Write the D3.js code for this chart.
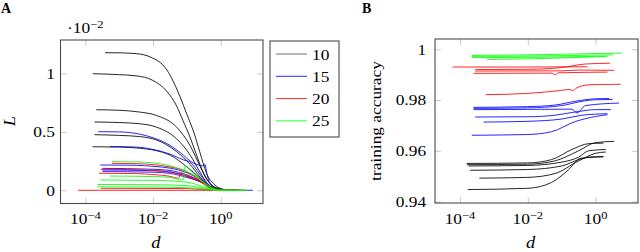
<!DOCTYPE html>
<html>
<head>
<meta charset="utf-8">
<script src="https://cdn.jsdelivr.net/npm/d3@7"></script>
<style>
  body { margin: 0; background: #fff; }
  svg { display: block; }
  svg text { font-family: "Liberation Serif", "DejaVu Serif", serif; }
</style>
</head>
<body>
<svg id="chart" width="640" height="252"></svg>
<script>
// each curve: [log10(d), value] pairs
const legendKeys = ["10", "15", "20", "25"];

const lossBlack = [
  [[-3.42, 0.01178], [-3, 0.01177], [-2.5, 0.0117], [-2.07, 0.0114], [-1.59, 0.0103], [-1.2, 0.008], [-1.0, 0.0065], [-0.8, 0.005], [-0.62, 0.0033], [-0.42, 0.00146], [-0.17, 0.00045], [0, 0.00015], [0.3, 0], [0.55, 0]],
  [[-3.78, 0.00998], [-3, 0.0099], [-2.5, 0.0098], [-2, 0.0094], [-1.6, 0.0085], [-1.3, 0.0072], [-1.12, 0.006], [-0.9, 0.0045], [-0.7, 0.0029], [-0.5, 0.0014], [-0.25, 0.0004], [0, 0.0001], [0.23, 0]],
  [[-3.68, 0.0069], [-3, 0.00685], [-2.4, 0.0067], [-1.89, 0.0064], [-1.3, 0.0054], [-0.9, 0.0038], [-0.6, 0.002], [-0.4, 0.0009], [-0.2, 0.0003], [0, 0.0001], [0.3, 0]],
  [[-3.73, 0.00585], [-3, 0.0058], [-2.4, 0.0057], [-1.89, 0.0054], [-1.3, 0.0044], [-0.9, 0.003], [-0.6, 0.0015], [-0.4, 0.0006], [-0.2, 0.0002], [0, 0.00005], [0.23, 0]],
  [[-3.73, 0.00476], [-3, 0.0047], [-2.4, 0.0046], [-1.89, 0.0043], [-1.3, 0.0033], [-0.9, 0.0022], [-0.6, 0.0011], [-0.35, 0.0004], [-0.1, 0.0001], [0, 0], [0.3, 0]],
  [[-3.79, 0.00373], [-3, 0.0037], [-2.38, 0.0036], [-1.49, 0.003], [-1.0, 0.002], [-0.6, 0.001], [-0.35, 0.0003], [-0.1, 0.0001], [0, 0], [0.23, 0]]
];
const lossBlue = [
  [[-3.62, 0.00502], [-3, 0.005], [-2.38, 0.0048], [-2, 0.0045], [-1.59, 0.004], [-1.1, 0.003], [-0.9, 0.0025], [-0.7, 0.0022], [-0.5, 0.00208], [-0.47, 0.00222], [-0.4, 0.0013], [-0.3, 0.0005], [-0.12, 0.0001], [0, 0], [0.5, 0]],
  [[-3.27, 0.00375], [-2.5, 0.0037], [-2, 0.0035], [-1.5, 0.0031], [-1.1, 0.0026], [-0.9, 0.0024], [-0.6, 0.0013], [-0.35, 0.0004], [-0.1, 0.0001], [0, 0], [0.65, 0]],
  [[-3.56, 0.00217], [-2.5, 0.00214], [-2, 0.00205], [-1.5, 0.0019], [-1, 0.0015], [-0.6, 0.0009], [-0.3, 0.0003], [0, 0], [0.95, 0]],
  [[-3.5, 0.00188], [-2, 0.0018], [-1.5, 0.0017], [-1, 0.0013], [-0.6, 0.0008], [-0.3, 0.0002], [0, 0], [0.45, 0]],
  [[-3.5, 0.00174], [-2, 0.00168], [-1.5, 0.00158], [-1, 0.0012], [-0.6, 0.00075], [-0.3, 0.0002], [0, 0], [0.35, 0]],
  [[-3.5, 0.0016], [-2, 0.00155], [-1.5, 0.00145], [-1, 0.0011], [-0.5, 0.0006], [-0.2, 0.0001], [0, 0], [0.4, 0]]
];
const lossRed = [
  [[-4.22, 0], [-0.24, 0]],
  [[-3.22, 0.00231], [-2.5, 0.00228], [-2, 0.0022], [-1.5, 0.002], [-1, 0.0016], [-0.6, 0.0009], [-0.3, 0.0003], [0, 0.00005], [0.74, 0]],
  [[-3.55, 0.0018], [-2.5, 0.00176], [-2, 0.0017], [-1.5, 0.00155], [-1, 0.0012], [-0.6, 0.0007], [-0.3, 0.0002], [0, 0], [0.42, 0]],
  [[-3.6, 0.00146], [-2.5, 0.00143], [-2, 0.00135], [-1.5, 0.0012], [-1.25, 0.00103], [-1.17, 0.0015], [-1.0, 0.0013], [-0.6, 0.0008], [-0.3, 0.0002], [0, 0], [0.35, 0]],
  [[-3.55, 0.00017], [-1, 0.00015], [-0.3, 0.00003], [0, 0], [0.55, 0]]
];
const lossGreen = [
  [[-3.22, 0.00245], [-2.5, 0.00243], [-2, 0.00235], [-1.5, 0.0021], [-1, 0.0016], [-0.6, 0.0009], [-0.3, 0.0003], [0, 0], [0.3, 0]],
  [[-3.27, 0.00122], [-2, 0.00118], [-1.5, 0.0011], [-1.1, 0.0009], [-1.05, 0.0021], [-0.8, 0.0014], [-0.5, 0.0006], [-0.2, 0.0001], [0, 0], [0.77, 0]],
  [[-3.56, 0.00088], [-2, 0.00085], [-1, 0.0007], [-0.5, 0.0003], [0, 0], [0.5, 0]],
  [[-3.65, 0.0005], [-2, 0.00048], [-1, 0.0004], [-0.5, 0.0002], [0, 0], [0.37, 0]],
  [[-3.65, 0.0003], [-2, 0.00028], [-1, 0.00022], [-0.4, 0.0001], [0, 0], [0.77, 0]]
];

const accBlack = [
  [[-3.8, 0.955], [-2, 0.9552], [-1.3, 0.9565], [-0.7, 0.9605], [-0.2, 0.9628], [0.23, 0.963]],
  [[-3.8, 0.9545], [-2, 0.9547], [-1.2, 0.956], [-0.5, 0.96], [0, 0.9632], [0.55, 0.9637]],
  [[-3.75, 0.954], [-2, 0.9542], [-1, 0.9555], [-0.5, 0.9575], [-0.2, 0.96], [0.3, 0.9605]],
  [[-3.7, 0.9523], [-2, 0.9526], [-1, 0.954], [-0.5, 0.9565], [-0.2, 0.9575], [0.23, 0.9577]],
  [[-3.43, 0.9492], [-2, 0.9495], [-1.2, 0.951], [-0.5, 0.956], [0, 0.959], [0.3, 0.9595]],
  [[-3.77, 0.9447], [-2, 0.9452], [-1.3, 0.9475], [-0.8, 0.9525], [-0.45, 0.957], [0.23, 0.9576]]
];
const accBlue = [
  [[-3.6, 0.9771], [-2, 0.9774], [-1.2, 0.978], [-0.6, 0.9795], [0, 0.9805], [0.4, 0.9806]],
  [[-3.6, 0.9767], [-2, 0.9769], [-1, 0.9778], [-0.4, 0.9795], [0, 0.9801], [0.5, 0.9802]],
  [[-3.6, 0.9762], [-2, 0.9763], [-0.7, 0.9764], [-0.55, 0.9749], [-0.3, 0.9778], [0.69, 0.9788]],
  [[-3.55, 0.9733], [-2, 0.9734], [-1.2, 0.974], [-0.5, 0.9755], [0, 0.9762], [0.45, 0.9762]],
  [[-3.3, 0.9713], [-2, 0.9716], [-1, 0.9725], [-0.4, 0.974], [0.35, 0.9746]],
  [[-3.65, 0.9661], [-2, 0.9664], [-1.3, 0.9675], [-0.6, 0.9715], [0, 0.9735], [0.35, 0.9742]]
];
const accRed = [
  [[-4.22, 0.993], [-2, 0.993], [-0.24, 0.9931]],
  [[-3.55, 0.992], [-2, 0.9921], [-1, 0.9928], [-0.3, 0.9942], [0.42, 0.9945]],
  [[-3.55, 0.9914], [-1, 0.9915], [-0.5, 0.9918], [0.55, 0.9917]],
  [[-3.6, 0.9905], [-1.3, 0.9906], [-1.2, 0.99], [-1.1, 0.9907], [0.35, 0.991]],
  [[-3.24, 0.9821], [-2, 0.9826], [-1, 0.9838], [-0.75, 0.9842], [-0.7, 0.9836], [-0.55, 0.9848], [-0.2, 0.986], [0.74, 0.9862]]
];
const accGreen = [
  [[-3.65, 0.9976], [-2, 0.9978], [0, 0.9983], [0.77, 0.9985]],
  [[-3.65, 0.9972], [-2, 0.9973], [0, 0.9977], [0.5, 0.9978]],
  [[-3.65, 0.9967], [-2, 0.9968], [0, 0.9972], [0.37, 0.9973]],
  [[-3.2, 0.996], [-2, 0.9962], [0, 0.997], [0.3, 0.9971]]
];

const xTicks = [1e-4, 1e-2, 1];
const xTickExps = ["\u22124", "\u22122", "0"];
const lossTicks = [0, 0.005, 0.01];
const lossTickLabels = ["0", "0.5", "1"];
const accTicks = [0.94, 0.96, 0.98, 1];
const accTickLabels = ["0.94", "0.96", "0.98", "1"];

const colors = ["#000", "#0000ff", "#ff0000", "#00ff00"];
const fontSize = 15.5;
const stretch = "scale(1.12,1)";
const svg = d3.select("#chart");

function panel(box, yDomain, yTicks, yLabels, labelPad, groups) {
  const x = d3.scaleLog().domain([10 ** -4.736, 10 ** 1.25]).range([box.left, box.right]);
  const y = d3.scaleLinear().domain(yDomain).range([box.bottom, box.top]);
  const g = svg.append("g");

  const tickStyle = (sel) => {
    sel.select(".domain").remove();
    sel.selectAll(".tick line").attr("stroke", "#bdbdbd").attr("stroke-width", 0.8);
  };

  g.append("g").attr("transform", `translate(0,${box.bottom})`)
    .call(d3.axisBottom(x).tickValues(xTicks).tickSizeInner(-6).tickSizeOuter(0).tickFormat(() => ""))
    .call(tickStyle);
  g.append("g").attr("transform", `translate(0,${box.top})`)
    .call(d3.axisTop(x).tickValues(xTicks).tickSizeInner(-6).tickSizeOuter(0).tickFormat(() => ""))
    .call(tickStyle);
  g.append("g").attr("transform", `translate(${box.right},0)`)
    .call(d3.axisRight(y).tickValues(yTicks).tickSizeInner(-6).tickSizeOuter(0).tickFormat(() => ""))
    .call(tickStyle);
  const ya = g.append("g").attr("transform", `translate(${box.left},0)`)
    .call(d3.axisLeft(y).tickValues(yTicks).tickSizeInner(-6).tickSizeOuter(0)
      .tickPadding(labelPad).tickFormat((d, i) => yLabels[i]))
    .call(tickStyle);
  ya.attr("font-family", null).attr("font-size", fontSize);
  ya.selectAll(".tick text").attr("fill", "#000").attr("transform", stretch);

  // x tick labels 10^k
  const xl = g.append("g").selectAll("text").data(xTicks).join("text")
    .attr("transform", (d) => `translate(${x(d)},224) ${stretch}`)
    .attr("text-anchor", "middle")
    .attr("font-size", fontSize);
  xl.append("tspan").text("10");
  xl.append("tspan").attr("dy", "-0.45em").attr("font-size", fontSize * 0.72)
    .text((d, i) => xTickExps[i]);

  const line = d3.line()
    .x((p) => x(10 ** p[0]))
    .y((p) => y(p[1]))
    .curve(d3.curveMonotoneX);

  groups.forEach((curves, k) => {
    g.append("g").selectAll("path").data(curves).join("path")
      .attr("d", line)
      .attr("fill", "none")
      .attr("stroke", colors[k])
      .attr("stroke-width", 0.85);
  });

  g.append("rect")
    .attr("x", box.left).attr("y", box.top)
    .attr("width", box.right - box.left).attr("height", box.bottom - box.top)
    .attr("fill", "none").attr("stroke", "#4a4a4a").attr("stroke-width", 1.1);

  g.append("text")
    .attr("transform", `translate(${(box.left + box.right) / 2 - 6},248) ${stretch}`)
    .attr("text-anchor", "middle").attr("font-size", fontSize + 1)
    .attr("font-style", "italic").text("d");
  return g;
}

// panel A
panel({ left: 60.5, right: 263, top: 40, bottom: 203.5 },
  [-0.00113, 0.012868], lossTicks, lossTickLabels, 5,
  [lossBlack, lossBlue, lossRed, lossGreen]);

// panel B
panel({ left: 435, right: 638, top: 39, bottom: 203 },
  [0.9394, 1.00405], accTicks, accTickLabels, 8,
  [accBlack, accBlue, accRed, accGreen]);

// scale factor label
const sf = svg.append("text").attr("transform", `translate(67,33) ${stretch}`).attr("font-size", fontSize);
sf.append("tspan").text("\u00b710");
sf.append("tspan").attr("dy", "-0.45em").attr("font-size", fontSize * 0.72).text("\u22122");

// axis titles
svg.append("text").attr("transform", `translate(15,121) rotate(-90) ${stretch}`)
  .attr("text-anchor", "middle").attr("font-size", fontSize + 1).attr("font-style", "italic").text("L");
svg.append("text").attr("transform", `translate(381,121) rotate(-90) ${stretch}`)
  .attr("text-anchor", "middle").attr("font-size", fontSize).text("training accuracy");

// panel letters
svg.append("text").attr("x", 1).attr("y", 13).attr("font-size", 14).attr("font-weight", "bold").text("A");
svg.append("text").attr("x", 362).attr("y", 13).attr("font-size", 14).attr("font-weight", "bold").text("B");

// legend
const lg = svg.append("g");
lg.append("rect").attr("x", 270).attr("y", 41).attr("width", 69).attr("height", 96)
  .attr("fill", "#fff").attr("stroke", "#4a4a4a").attr("stroke-width", 1.1);
const rows = lg.selectAll("g").data(legendKeys).join("g")
  .attr("transform", (d, i) => `translate(0,${54 + i * 22.3})`);
rows.append("line").attr("x1", 276).attr("x2", 307)
  .attr("stroke", (d, i) => (i === 0 ? "#555" : colors[i])).attr("stroke-width", 0.85);
rows.append("text").attr("transform", `translate(312,5.5) ${stretch}`)
  .attr("font-size", fontSize).text((d) => d);
</script>
</body>
</html>
